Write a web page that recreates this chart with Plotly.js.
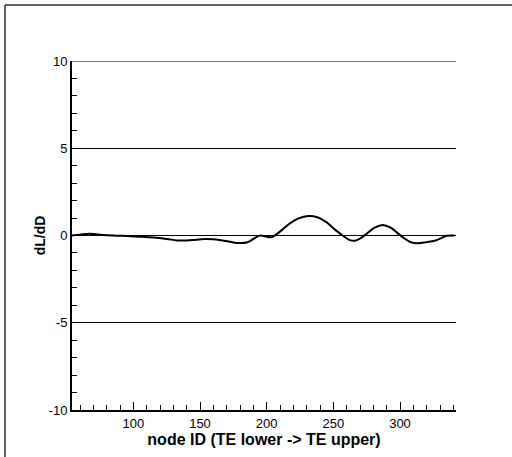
<!DOCTYPE html>
<html>
<head>
<meta charset="utf-8">
<script src="https://cdn.plot.ly/plotly-3.0.1.min.js"></script>
<style>
html,body{margin:0;padding:0;background:#fff;}
#chart{width:512px;height:457px;}
</style>
</head>
<body>
<div id="chart"></div>
<script>
// Node IDs along the airfoil (TE lower -> TE upper)
var nodeId = [54, 60, 67, 75, 85, 95, 105, 115, 125, 133, 140, 147, 153, 160, 168, 175, 180, 185, 190, 195, 199, 203, 207, 212, 218, 224, 231, 238, 245, 251, 257, 262, 266, 270, 275, 281, 287, 293, 298, 303, 308, 313, 320, 326, 331, 335, 341];
// Sensitivity dL/dD
var dLdD = [0.0, 0.05, 0.1, 0.05, 0.0, -0.03, -0.07, -0.12, -0.2, -0.28, -0.29, -0.24, -0.2, -0.22, -0.3, -0.4, -0.43, -0.4, -0.2, 0.0, -0.05, -0.1, 0.05, 0.35, 0.72, 0.98, 1.12, 1.05, 0.75, 0.35, 0.0, -0.25, -0.3, -0.18, 0.1, 0.45, 0.6, 0.45, 0.15, -0.15, -0.38, -0.45, -0.38, -0.3, -0.15, -0.02, 0.0];
var xTickVals = [100, 150, 200, 250, 300];
var yTickVals = [-10, -5, 0, 5, 10];
var yTickText = ['-10', '-5', '0', '5', '10'];

var trace = {
  x: nodeId, y: dLdD, type: 'scatter', mode: 'lines',
  line: {color: '#000', width: 2, shape: 'spline', smoothing: 1},
  hoverinfo: 'skip'
};

var topY = yTickVals[yTickVals.length - 1];

var layout = {
  width: 512, height: 457,
  margin: {l: 72, r: 56, t: 61, b: 47},
  paper_bgcolor: '#fff', plot_bgcolor: '#fff',
  showlegend: false,
  font: {family: 'Liberation Sans, Arial, sans-serif', color: '#000', size: 13},
  xaxis: {
    range: [54, 342], tickvals: xTickVals, ticks: 'inside', ticklen: 8, tickwidth: 1, tickcolor: '#000',
    showgrid: false, zeroline: false, showline: true, linecolor: '#000', linewidth: 2,
    minor: {ticks: 'inside', dtick: 10, tick0: 0, ticklen: 5, tickcolor: '#000', tickwidth: 1, showgrid: false},
    tickfont: {size: 13},
    title: {text: '<b>node ID (TE lower -> TE upper)</b>', font: {size: 16}, standoff: 0}
  },
  yaxis: {
    range: [-10, 10], tickvals: yTickVals, ticktext: yTickText, ticks: 'inside', ticklen: 8, tickwidth: 1, tickcolor: '#000',
    showgrid: true, gridcolor: '#000', gridwidth: 1, zeroline: false,
    showline: true, linecolor: '#000', linewidth: 2,
    minor: {ticks: 'inside', dtick: 1, tick0: 0, ticklen: 5, tickcolor: '#000', tickwidth: 1, showgrid: false},
    tickfont: {size: 13},
    title: {text: '<b>dL/dD</b>', font: {size: 14}, standoff: 0}
  },
  shapes: [{
    type: 'line', xref: 'paper', yref: 'paper',
    x0: -0.1745, x1: 1.5, y0: 1.1605, y1: 1.1605,
    line: {color: '#333', width: 1.5}
  }, {
    type: 'line', xref: 'paper', yref: 'paper',
    x0: -0.1745, x1: -0.1745, y0: -0.5, y1: 1.1605,
    line: {color: '#333', width: 1.5}
  }, {
    type: 'line', xref: 'paper', yref: 'y',
    x0: 0, x1: 1, y0: topY, y1: topY,
    line: {color: '#000', width: 1}
  }]
};

Plotly.newPlot('chart', [trace], layout, {staticPlot: true, displayModeBar: false});
</script>
</body>
</html>
